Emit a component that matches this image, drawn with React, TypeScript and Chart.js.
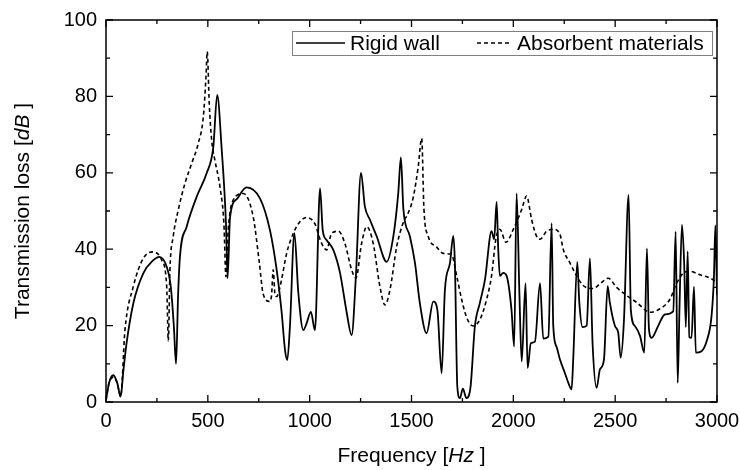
import React, { useEffect, useRef } from "react";
import { Chart, registerables } from "chart.js";

Chart.register(...registerables);

const rigidFreq = [0, 15, 36, 55, 72, 85, 101, 134, 183, 230, 262, 298, 318, 333, 344, 354, 363, 396, 445, 494, 527, 546, 568, 589, 597, 609, 642, 690, 756, 805, 838, 862, 879, 890, 903, 925, 944, 969, 985, 1006, 1026, 1051, 1064, 1083, 1116, 1149, 1181, 1206, 1227, 1252, 1271, 1296, 1329, 1378, 1411, 1435, 1448, 1460, 1492, 1517, 1541, 1574, 1607, 1627, 1648, 1664, 1689, 1705, 1713, 1725, 1738, 1752, 1770, 1790, 1811, 1836, 1861, 1893, 1906, 1918, 1926, 1934, 1950, 1967, 1991, 2004, 2016, 2030, 2041, 2060, 2070, 2086, 2106, 2131, 2147, 2172, 2188, 2196, 2212, 2229, 2253, 2270, 2286, 2294, 2314, 2324, 2340, 2360, 2376, 2389, 2409, 2425, 2445, 2463, 2474, 2499, 2515, 2527, 2543, 2566, 2577, 2597, 2622, 2643, 2656, 2666, 2679, 2711, 2744, 2785, 2797, 2807, 2816, 2828, 2839, 2847, 2856, 2864, 2875, 2887, 2896, 2924, 2949, 2973, 2985, 2992, 3000];
const rigidTL = [0.5, 5, 7, 5, 1.4, 8, 15.4, 25.8, 33.7, 37, 38, 35.4, 30.2, 20, 10, 28, 38, 45.9, 53.7, 59.9, 66.8, 80.4, 66.2, 46.8, 32.4, 48.3, 53.1, 56.2, 53.3, 45, 34.6, 23.7, 13.6, 11, 19.7, 44.2, 28.8, 18.8, 20.6, 23.6, 18.8, 55.9, 45, 42.4, 39.8, 33.8, 23.7, 17.5, 33, 60, 51.2, 47.7, 43.4, 36.7, 43.4, 54.7, 64, 50.6, 43.4, 36.4, 25.9, 18, 26.3, 24.1, 7.5, 29.3, 36.4, 43.5, 36.4, 4, 1, 3.5, 1, 4, 19.7, 26, 32.1, 44.7, 42.6, 52.4, 39.8, 33, 33.8, 33, 24.1, 14.5, 54.6, 28, 10.6, 31.1, 8.9, 15.4, 15.8, 31.1, 16.6, 17.1, 46.8, 20, 14.5, 11.1, 7.6, 5, 3.3, 11.1, 36.7, 26, 19.6, 20, 37.6, 15.4, 3.7, 8.5, 11.1, 30.3, 26, 19.9, 18.2, 11.6, 21.2, 54.2, 24.1, 19.9, 17.3, 12.9, 40.2, 19, 16.8, 19.9, 22.9, 23.7, 44.6, 5, 25, 46.4, 36, 19.6, 39.4, 17, 16.8, 30.2, 12.9, 13.3, 15.9, 22.4, 32.8, 46.2, 28];

const absorbFreq = [0, 15, 36, 55, 72, 93, 134, 183, 232, 273, 298, 306, 314, 330, 355, 388, 421, 453, 478, 491, 497, 507, 519, 535, 560, 579, 589, 600, 625, 674, 723, 753, 772, 805, 813, 821, 830, 838, 854, 862, 887, 920, 952, 985, 1026, 1055, 1083, 1108, 1141, 1173, 1206, 1227, 1255, 1280, 1312, 1345, 1370, 1394, 1427, 1443, 1468, 1476, 1509, 1533, 1550, 1561, 1582, 1623, 1656, 1697, 1722, 1746, 1771, 1803, 1836, 1869, 1893, 1914, 1934, 1964, 2000, 2041, 2065, 2090, 2114, 2131, 2163, 2196, 2229, 2245, 2278, 2311, 2343, 2392, 2425, 2466, 2507, 2556, 2605, 2671, 2720, 2769, 2802, 2834, 2867, 2916, 2981, 3000];
const absorbTL = [0.5, 5, 6.5, 5, 1.4, 18.8, 30.2, 37.6, 39.3, 37.2, 30.2, 16, 34.6, 43.3, 50.3, 57.3, 62.5, 67.7, 74.7, 85.2, 91.7, 78, 68.4, 63.2, 56.2, 46.6, 32.8, 45, 52.9, 54.6, 48.4, 36.4, 28.2, 26.3, 28, 34.6, 28, 27.6, 30, 32, 38.9, 44.2, 47.2, 48.3, 46.6, 42, 39.8, 44.2, 44.7, 41.5, 34.6, 32.4, 41.5, 45.9, 41.5, 30.2, 25.4, 29.3, 40.6, 44.2, 48, 48.6, 53.7, 61.6, 69, 50.6, 43.4, 40.6, 38.9, 38.5, 33, 26.9, 22.1, 19.9, 21.6, 26.9, 33, 42.6, 45.2, 41.8, 45.2, 50.4, 53.9, 47.7, 43.4, 42.6, 44.7, 45.2, 43.9, 40, 36.4, 33, 30.5, 29.7, 30.9, 32.4, 30, 27.9, 26.1, 23.5, 24.4, 26.9, 31.1, 33.7, 34.2, 33.3, 32, 31];

const seriesNames = ["Rigid wall", "Absorbent materials"];
const xTitleParts = ["Frequency [", "Hz", " ]"];
const yTitleParts = ["Transmission loss [", "dB", " ]"];

const FONT = "'Liberation Sans', Arial, sans-serif";

function drawMixed(ctx: CanvasRenderingContext2D, parts: string[], size: number, cx: number, y: number) {
  const fonts = [`${size}px ${FONT}`, `italic ${size}px ${FONT}`, `${size}px ${FONT}`];
  let total = 0;
  const widths = parts.map((p, i) => {
    ctx.font = fonts[i];
    const w = ctx.measureText(p).width;
    total += w;
    return w;
  });
  let x = cx - total / 2;
  parts.forEach((p, i) => {
    ctx.font = fonts[i];
    ctx.fillText(p, x, y);
    x += widths[i];
  });
}

const framePlugin = {
  id: "frame",
  afterDraw(chart: any) {
    const { ctx, chartArea } = chart;
    const { left, right, top, bottom } = chartArea;
    const xs = chart.scales.x;
    const ys = chart.scales.y;
    ctx.save();
    ctx.strokeStyle = "#000";
    ctx.lineWidth = 1.5;
    ctx.strokeRect(left, top, right - left, bottom - top);
    ctx.lineWidth = 1.3;
    ctx.beginPath();
    for (let v = 0; v <= 3000; v += 250) {
      const len = v % 500 === 0 ? 7 : 4;
      const px = xs.getPixelForValue(v);
      ctx.moveTo(px, bottom);
      ctx.lineTo(px, bottom - len);
      ctx.moveTo(px, top);
      ctx.lineTo(px, top + len);
    }
    for (let v = 0; v <= 100; v += 10) {
      const len = v % 20 === 0 ? 7 : 4;
      const py = ys.getPixelForValue(v);
      ctx.moveTo(left, py);
      ctx.lineTo(left + len, py);
      ctx.moveTo(right, py);
      ctx.lineTo(right - len, py);
    }
    ctx.stroke();

    // axis titles
    ctx.fillStyle = "#000";
    ctx.textBaseline = "alphabetic";
    ctx.textAlign = "left";
    drawMixed(ctx, xTitleParts, 21, (left + right) / 2, 462);
    ctx.save();
    ctx.translate(29, (top + bottom) / 2);
    ctx.rotate(-Math.PI / 2);
    drawMixed(ctx, yTitleParts, 21, 0, 0);
    ctx.restore();

    // legend
    const lx0 = 292, lx1 = 712, ly0 = 31, ly1 = 55;
    ctx.fillStyle = "#fff";
    ctx.fillRect(lx0, ly0, lx1 - lx0, ly1 - ly0);
    ctx.strokeStyle = "#808080";
    ctx.lineWidth = 1;
    ctx.strokeRect(lx0 + 0.5, ly0 + 0.5, lx1 - lx0, ly1 - ly0);
    const my = (ly0 + ly1) / 2;
    ctx.strokeStyle = "#000";
    ctx.lineWidth = 1.6;
    ctx.beginPath();
    ctx.moveTo(296, my);
    ctx.lineTo(345, my);
    ctx.stroke();
    ctx.setLineDash([4, 3]);
    ctx.beginPath();
    ctx.moveTo(477, my);
    ctx.lineTo(511, my);
    ctx.stroke();
    ctx.setLineDash([]);
    ctx.fillStyle = "#000";
    ctx.font = `21px ${FONT}`;
    ctx.textBaseline = "middle";
    ctx.fillText(seriesNames[0], 350, my + 1);
    ctx.fillText(seriesNames[1], 517, my + 1);
    ctx.restore();
  },
};

export default function App() {
  const ref = useRef<HTMLCanvasElement | null>(null);
  useEffect(() => {
    document.body.style.margin = "0";
    const canvas = ref.current;
    if (!canvas) return;
    const chart = new Chart(canvas, {
      type: "line",
      data: {
        datasets: [
          {
            label: seriesNames[0],
            data: rigidFreq.map((f, i) => ({ x: f, y: rigidTL[i] })),
            borderColor: "#000",
            borderWidth: 1.8,
            pointRadius: 0,
            cubicInterpolationMode: "monotone",
            fill: false,
          },
          {
            label: seriesNames[1],
            data: absorbFreq.map((f, i) => ({ x: f, y: absorbTL[i] })),
            borderColor: "#000",
            borderWidth: 1.6,
            borderDash: [4, 3],
            pointRadius: 0,
            cubicInterpolationMode: "monotone",
            fill: false,
          },
        ],
      },
      options: {
        animation: false,
        responsive: false,
        devicePixelRatio: 1,
        layout: { padding: { left: 0, top: 20, right: 23, bottom: 0 } },
        plugins: { legend: { display: false }, tooltip: { enabled: false } },
        scales: {
          x: {
            type: "linear",
            min: 0,
            max: 3000,
            grid: { display: false, drawTicks: false },
            border: { display: false },
            ticks: {
              stepSize: 500,
              autoSkip: false,
              maxRotation: 0,
              padding: 7,
              color: "#000",
              font: { family: FONT, size: 20 },
              callback: (v: any) => String(v),
            },
            afterFit: (s: any) => {
              s.height = 68;
              s.paddingLeft = 0;
              s.paddingRight = 0;
            },
          },
          y: {
            min: 0,
            max: 100,
            grid: { display: false, drawTicks: false },
            border: { display: false },
            ticks: {
              stepSize: 20,
              padding: 9,
              color: "#000",
              font: { family: FONT, size: 20 },
              callback: (v: any) => String(v),
            },
            afterFit: (s: any) => {
              s.width = 106;
              s.paddingTop = 0;
              s.paddingBottom = 0;
            },
          },
        },
      },
      plugins: [framePlugin],
    } as any);
    return () => chart.destroy();
  }, []);
  return <canvas ref={ref} width={740} height={470} style={{ display: "block" }} />;
}
